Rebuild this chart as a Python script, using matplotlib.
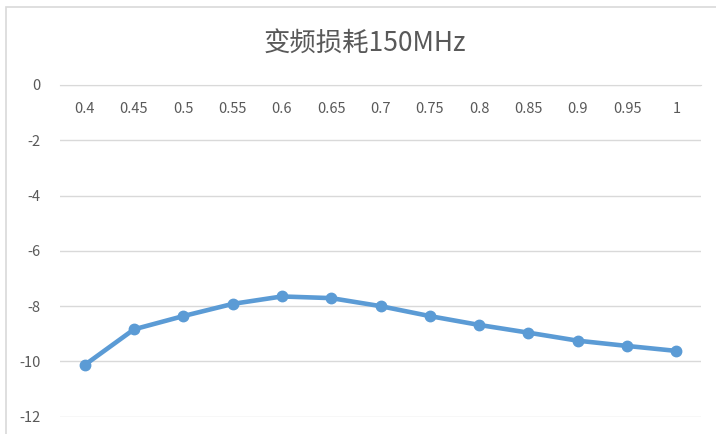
import matplotlib.pyplot as plt
from matplotlib.patches import Rectangle

plt.rcParams['font.family'] = ['Noto Sans CJK SC', 'DejaVu Sans']
plt.rcParams['axes.unicode_minus'] = False

freq = ['0.4', '0.45', '0.5', '0.55', '0.6', '0.65', '0.7', '0.75',
        '0.8', '0.85', '0.9', '0.95', '1']
loss = [-10.13, -8.84, -8.36, -7.92, -7.65, -7.71, -8.00, -8.36,
        -8.68, -8.96, -9.25, -9.44, -9.62]
yticks = [0, -2, -4, -6, -8, -10, -12]

text_color = '#595959'
grid_color = '#D9D9D9'

fig = plt.figure(figsize=(7.16, 4.34), dpi=100)
# outer chart border
fig.patches.append(Rectangle((5.5 / 716, -0.1), 1.2, (434 - 7.5) / 434 + 0.1,
                             transform=fig.transFigure, fill=False,
                             edgecolor=grid_color, linewidth=1.2))

ax = fig.add_axes([60 / 716, 1 - 416.7 / 434, 641 / 716, (416.7 - 85) / 434])
x = list(range(len(freq)))
ax.plot(x, loss, color='#5B9BD5', linewidth=3.3, marker='o',
        markersize=7.5, solid_capstyle='round', solid_joinstyle='round',
        zorder=3)

ax.set_xlim(-0.5, len(freq) - 0.5)
ax.set_ylim(-12, 0)
ax.set_yticks(yticks)
ax.set_yticklabels([str(v) for v in yticks])
ax.set_xticks(x)
ax.set_xticklabels(freq)

ax.grid(axis='y', color=grid_color, linewidth=1.0)
ax.set_axisbelow(True)
for side in ['top', 'right', 'left']:
    ax.spines[side].set_visible(False)
ax.spines['bottom'].set_position(('data', 0))
ax.spines['bottom'].set_color(grid_color)
ax.tick_params(axis='x', length=0, pad=12, labelsize=10.5, labelcolor=text_color)
ax.tick_params(axis='y', length=0, pad=14, labelsize=10.5, labelcolor=text_color)

fig.text(365 / 716, 1 - 43 / 434, '变频损耗150MHz', ha='center', va='center',
         fontsize=19, color=text_color)

fig.savefig('out.png', dpi=100)
